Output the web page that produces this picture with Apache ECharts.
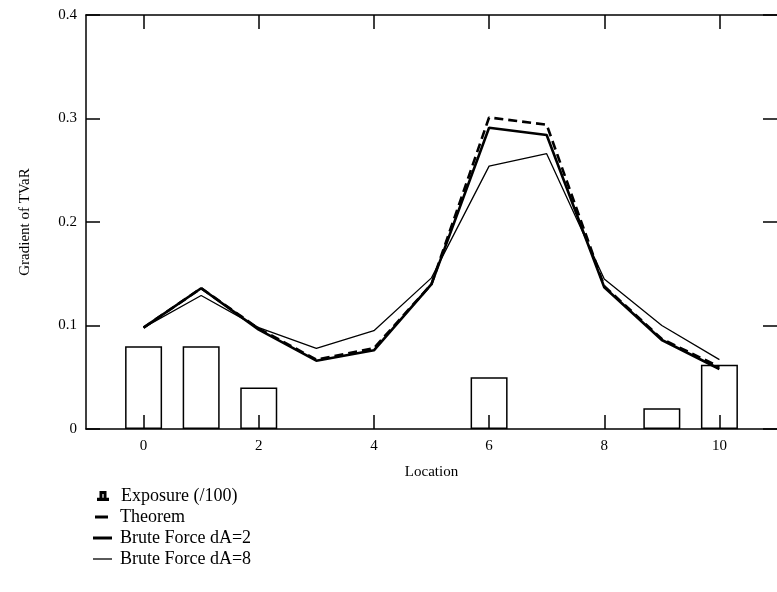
<!DOCTYPE html>
<html>
<head>
<meta charset="utf-8">
<script src="https://cdn.jsdelivr.net/npm/echarts@6/dist/echarts.min.js"></script>
<style>
html,body{margin:0;padding:0;background:#fff;}
#main{width:777px;height:592px;}
</style>
</head>
<body>
<div id="main"></div>
<script>
// ---- data ----
var locations = [0, 1, 2, 3, 4, 5, 6, 7, 8, 9, 10];
var exposure = [0.08, 0.08, 0.04, 0, 0, 0, 0.05, 0, 0, 0.02, 0.062];
var theorem = [0.098, 0.136, 0.097, 0.067, 0.078, 0.140, 0.301, 0.294, 0.138, 0.087, 0.060];
var bruteForce2 = [0.098, 0.136, 0.096, 0.066, 0.076, 0.140, 0.291, 0.284, 0.137, 0.086, 0.058];
var bruteForce8 = [0.098, 0.129, 0.098, 0.078, 0.095, 0.146, 0.254, 0.266, 0.145, 0.100, 0.067];
var xTicks = [0, 2, 4, 6, 8, 10];
var yTicks = [0, 0.1, 0.2, 0.3, 0.4];
var seriesNames = ['Exposure (/100)', 'Theorem', 'Brute Force dA=2', 'Brute Force dA=8'];

function pairs(arr, skipZero) {
  return locations.map(function (x, i) {
    return (skipZero && arr[i] === 0) ? [x, '-'] : [x, arr[i]];
  });
}

var FONT = '"Liberation Serif", "DejaVu Serif", serif';
var chart = echarts.init(document.getElementById('main'), null, {renderer: 'canvas'});

function legendBox(name, top, left, icon, w, h, pad) {
  return {
    show: true, orient: 'vertical', left: left, top: top,
    selectedMode: false, itemWidth: w, itemHeight: h, itemGap: 0, padding: 0,
    data: [{name: name, icon: icon}],
    textStyle: {fontFamily: FONT, fontSize: 18, color: '#000', padding: [0, 0, 0, pad]}
  };
}

var option = {
  backgroundColor: '#fff',
  animation: false,
  textStyle: {fontFamily: FONT},
  grid: {left: 86, top: 15, right: -3, bottom: 163, containLabel: false},
  xAxis: [{
    type: 'value', min: -1, max: 11, interval: 1,
    name: 'Location', nameLocation: 'middle', nameGap: 36,
    nameTextStyle: {fontFamily: FONT, fontSize: 15, color: '#000'},
    axisLine: {show: true, onZero: false, lineStyle: {color: '#000', width: 1.5}},
    axisTick: {show: true, inside: true, length: 14, customValues: xTicks, lineStyle: {color: '#000', width: 1.5}},
    axisLabel: {show: true, customValues: xTicks, margin: 10, fontFamily: FONT, fontSize: 15, color: '#000'},
    splitLine: {show: false}
  }, {
    type: 'value', min: -1, max: 11, interval: 1, position: 'top',
    axisLine: {show: true, onZero: false, lineStyle: {color: '#000', width: 1.5}},
    axisTick: {show: true, inside: true, length: 14, customValues: xTicks, lineStyle: {color: '#000', width: 1.5}},
    axisLabel: {show: false},
    splitLine: {show: false}
  }],
  yAxis: [{
    type: 'value', min: 0, max: 0.4, interval: 0.1,
    name: 'Gradient of TVaR', nameLocation: 'middle', nameGap: 53, nameRotate: 90,
    nameTextStyle: {fontFamily: FONT, fontSize: 15, color: '#000'},
    axisLine: {show: true, onZero: false, lineStyle: {color: '#000', width: 1.5}},
    axisTick: {show: true, inside: true, length: 14, lineStyle: {color: '#000', width: 1.5}},
    axisLabel: {show: true, margin: 9, fontFamily: FONT, fontSize: 15, color: '#000',
      formatter: function (v) { return v === 0 ? '0' : v.toFixed(1); }},
    splitLine: {show: false}
  }, {
    type: 'value', min: 0, max: 0.4, interval: 0.1, position: 'right',
    axisLine: {show: false, onZero: false, lineStyle: {color: '#000', width: 1.5}},
    axisTick: {show: true, inside: true, length: 14, lineStyle: {color: '#000', width: 1.5}},
    axisLabel: {show: false},
    splitLine: {show: false}
  }],
  legend: [
    legendBox(seriesNames[0], 487, 97, 'path://M0,8.8H10V10H0Z M2.5,2H7.5V8.8H6.6V2.9H3.4V8.8H2.5Z', 10, 9, 8),
    legendBox(seriesNames[1], 508, 95, 'rect', 13, 3, 7),
    legendBox(seriesNames[2], 529, 93, 'rect', 19, 3, 3),
    legendBox(seriesNames[3], 550, 93, 'rect', 19, 1.3, 3)
  ],
  series: [{
    name: seriesNames[0], type: 'bar', data: pairs(exposure, true),
    barWidth: 37, z: 1,
    itemStyle: {color: 'rgba(255,255,255,0)', borderColor: '#000', borderWidth: 1.5}
  }, {
    name: seriesNames[1], type: 'line', data: pairs(theorem), symbol: 'none', z: 3,
    itemStyle: {color: '#000'},
    lineStyle: {color: '#000', width: 2.6, type: [9, 5]}
  }, {
    name: seriesNames[2], type: 'line', data: pairs(bruteForce2), symbol: 'none', z: 4,
    itemStyle: {color: '#000'},
    lineStyle: {color: '#000', width: 2.6}
  }, {
    name: seriesNames[3], type: 'line', data: pairs(bruteForce8), symbol: 'none', z: 5,
    itemStyle: {color: '#000'},
    lineStyle: {color: '#000', width: 1.3}
  }]
};
chart.setOption(option);
</script>
</body>
</html>
